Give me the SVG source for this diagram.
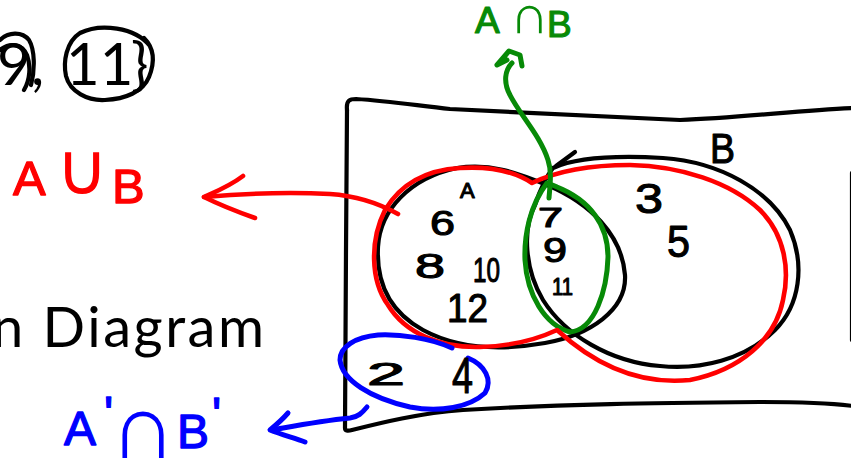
<svg xmlns="http://www.w3.org/2000/svg" width="851" height="458" viewBox="0 0 851 458">
  <style>
    .ink { fill: none; stroke-linecap: round; stroke-linejoin: round; }
    .k { stroke: #000; stroke-width: 4.2; }
    .r { stroke: #ff0000; stroke-width: 4.6; }
    .g { stroke: #078a07; stroke-width: 5; }
    .b { stroke: #0000ff; stroke-width: 5; }
    .slide { font-family: Lato, "Liberation Sans", sans-serif; fill: #000; }
    .hand { font-family: "Liberation Sans", "DejaVu Sans", sans-serif; stroke-linejoin: round; }
    .hk { fill: #000; stroke: #000; stroke-width: 1.1; }
    .hr { fill: #ff0000; stroke: #ff0000; stroke-width: 1.3; }
    .hg { fill: #078a07; stroke: #078a07; stroke-width: 1.2; }
    .hb { fill: #0000ff; stroke: #0000ff; stroke-width: 1.3; }
    /* large set operators keep their own stem weight */
    .op { stroke-width: 0; }
  </style>

  <rect width="851" height="458" fill="#fff"/>

  <!-- slide text behind the sketch -->
  <g id="slide-text">
    <text class="slide" y="85" font-size="58"><tspan x="-3">9</tspan><tspan x="31">,</tspan><tspan x="66">11</tspan><tspan x="131">}</tspan></text>
    <text class="slide" x="-8" y="347" font-size="56" textLength="272">n Diagram</text>
    <!-- rings around the chosen elements -->
    <path class="ink k" d="M 0,40 C 8,32 22,31 29,40 C 35,50 35,70 31,85"/>
    <path class="ink k" d="M 0,50 C 10,42 22,44 27,55 C 31,66 30,80 24,90"/>
    <path class="ink k" d="M 150,46 C 135,27 100,23 80,33 C 66,42 63,62 66,76 C 70,92 88,101 105,100 C 125,99 143,92 149,77 C 155,62 154,48 144,38"/>
  </g>

  <!-- universal set -->
  <g id="universe">
    <path class="ink k" d="M 347,110 C 346,100 350,99 356,99 C 390,101 420,106 450,109 C 520,113 600,116 680,120 C 740,118 800,110 853,108"/>
    <path class="ink k" d="M 347,110 L 346,250 L 345,428 Q 345,432 352,430 C 380,423 420,413 463,410 C 560,404 660,403 760,402 C 800,402 830,403 853,406"/>
    <path class="ink k" d="M 852,173 L 852,340"/>
  </g>

  <!-- set A -->
  <g id="set-a">
    <path class="ink k" d="M 457,168 C 490,163 515,172 547,185 C 590,203 622,235 625,275 C 627,310 590,335 545,343 C 505,350 460,350 423,330 C 392,313 376,285 378,247 C 380,210 410,178 457,168 Z"/>
    <text class="hand hk" x="460" y="198" font-size="22">A</text>
    <text class="hand hk" x="430" y="235" font-size="35" textLength="25" lengthAdjust="spacingAndGlyphs">6</text>
    <text class="hand hk" x="415" y="278" font-size="35" textLength="30" lengthAdjust="spacingAndGlyphs">8</text>
    <text class="hand hk" x="473" y="282" font-size="35" textLength="27" lengthAdjust="spacingAndGlyphs">10</text>
    <text class="hand hk" x="447" y="322" font-size="40" textLength="41" lengthAdjust="spacingAndGlyphs">12</text>
  </g>

  <!-- set B -->
  <g id="set-b">
    <path class="ink k" d="M 553,168 C 575,158 610,155 663,158 C 720,162 770,190 790,230 C 805,265 800,305 775,330 C 745,360 700,370 660,366 C 610,362 565,335 543,300 C 525,270 522,230 535,205 C 540,190 545,178 553,168 Z"/>
    <path class="ink k" d="M 575,152 L 556,166"/>
    <text class="hand hk" x="710" y="163" font-size="42" textLength="25" lengthAdjust="spacingAndGlyphs">B</text>
    <text class="hand hk" x="635" y="213" font-size="43" textLength="28" lengthAdjust="spacingAndGlyphs">3</text>
    <text class="hand hk" x="667" y="257" font-size="45" textLength="23" lengthAdjust="spacingAndGlyphs">5</text>
  </g>

  <!-- A and B shared region -->
  <g id="a-and-b">
    <path class="ink g" d="M 547,183 C 530,205 524,235 525,260 C 527,295 545,325 570,332 C 595,330 607,290 608,257 C 608,225 590,200 557,187 C 553,185 550,184 547,183 Z"/>
    <text class="hand hk" x="538" y="227" font-size="27" textLength="25" lengthAdjust="spacingAndGlyphs">7</text>
    <text class="hand hk" x="543" y="262" font-size="35" textLength="24" lengthAdjust="spacingAndGlyphs">9</text>
    <text class="hand hk" x="552" y="295" font-size="24" textLength="21" lengthAdjust="spacingAndGlyphs">11</text>
    <text class="hand hg" y="33" font-size="37"><tspan x="475">A</tspan><tspan class="op" x="510" font-size="54">∩</tspan><tspan x="547" y="37">B</tspan></text>
  </g>

  <!-- A or B outline -->
  <g id="a-or-b">
    <path class="ink r" d="M 532,183 C 555,172 590,165 630,165 C 680,166 730,182 760,210 C 785,235 790,270 783,300 C 775,340 740,370 690,380 C 640,385 595,365 557,330 C 540,338 515,346 480,347 C 440,348 405,333 388,305 C 370,280 370,240 385,210 C 400,185 425,170 460,168 C 490,166 515,172 532,183 Z"/>
    <text class="hand hr" font-size="49"><tspan x="13" y="195">A</tspan><tspan class="op" x="56" y="194" font-size="72">∪</tspan><tspan x="112" y="203">B</tspan></text>
  </g>

  <!-- neither A nor B -->
  <g id="neither">
    <path class="ink b" d="M 452,348 C 430,338 400,334 378,335 C 355,337 340,347 340,360 C 342,380 370,398 410,407 C 440,413 470,407 485,393 C 493,380 485,365 468,358"/>
    <text class="hand hk" x="367" y="385" font-size="31" textLength="38" lengthAdjust="spacingAndGlyphs">2</text>
    <text class="hand hk" x="452" y="393" font-size="50" textLength="21" lengthAdjust="spacingAndGlyphs">4</text>
    <text class="hand hb" font-size="48"><tspan x="64" y="445">A</tspan><tspan x="104" y="430">'</tspan><tspan class="op" x="110" y="458" font-size="92">∩</tspan><tspan x="177" y="448">B</tspan><tspan x="212" y="431">'</tspan></text>
  </g>

  <!-- connectors from each region to its label -->
  <g id="connectors">
    <path class="ink r" d="M 398,214 C 380,204 360,196 330,194 C 290,192 250,193 204,197"/>
    <path class="ink r" d="M 243,176 C 230,186 215,192 204,197 C 220,205 238,212 255,218"/>
    <path class="ink g" d="M 549,198 C 550,185 552,172 548,160 C 540,135 520,115 510,95 C 503,82 505,70 512,63"/>
    <path class="ink g" d="M 522,66 L 520,55 L 509,51 L 497,65 L 507,60"/>
    <path class="ink b" d="M 367,407 C 362,413 358,417 350,418 C 320,421 300,425 272,430"/>
    <path class="ink b" d="M 288,413 C 282,420 276,425 270,430 C 282,435 295,438 305,442"/>
  </g>
</svg>
